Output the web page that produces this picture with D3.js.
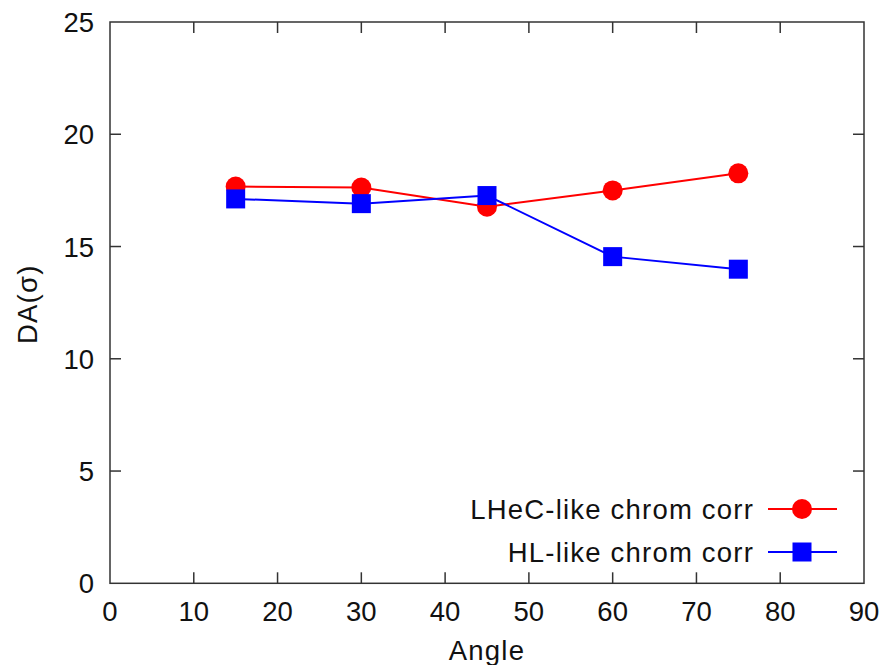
<!DOCTYPE html>
<html>
<head>
<meta charset="utf-8">
<script src="https://cdn.jsdelivr.net/npm/d3@7"></script>
<style>
  html, body { margin: 0; padding: 0; background: #fff; }
  svg text { font-family: "Liberation Sans", Arial, sans-serif; fill: #111; }
</style>
</head>
<body>
<svg id="chart" width="888" height="665"></svg>
<script>
// Dynamic aperture vs crossing angle for two chromaticity-correction schemes
const angles = [15, 30, 45, 60, 75];
const lhecValues = [17.67, 17.63, 16.77, 17.50, 18.26];
const hlValues = [17.12, 16.91, 17.27, 14.55, 13.99];
const xTicks = [0, 10, 20, 30, 40, 50, 60, 70, 80, 90];
const yTicks = [0, 5, 10, 15, 20, 25];
const seriesNames = ["LHeC-like chrom corr", "HL-like chrom corr"];

const svg = d3.select("#chart");
const plotLeft = 110, plotRight = 864, plotTop = 22, plotBottom = 583.3;

const x = d3.scaleLinear().domain([0, 90]).range([plotLeft, plotRight]);
const y = d3.scaleLinear().domain([0, 25]).range([plotBottom, plotTop]);

const frameColor = "#333";
const tickLen = 11;
const fontSize = 27.5;
const wordSpacing = 1.2;

// Inward ticks on all four sides
const g = svg.append("g");
xTicks.slice(1, -1).forEach(t => {
  g.append("line").attr("x1", x(t)).attr("x2", x(t)).attr("y1", plotBottom).attr("y2", plotBottom - tickLen)
    .attr("stroke", frameColor).attr("stroke-width", 1.5);
  g.append("line").attr("x1", x(t)).attr("x2", x(t)).attr("y1", plotTop).attr("y2", plotTop + tickLen)
    .attr("stroke", frameColor).attr("stroke-width", 1.5);
});
yTicks.slice(1, -1).forEach(t => {
  g.append("line").attr("x1", plotLeft).attr("x2", plotLeft + tickLen).attr("y1", y(t)).attr("y2", y(t))
    .attr("stroke", frameColor).attr("stroke-width", 1.5);
  g.append("line").attr("x1", plotRight).attr("x2", plotRight - tickLen).attr("y1", y(t)).attr("y2", y(t))
    .attr("stroke", frameColor).attr("stroke-width", 1.5);
});

// Frame
svg.append("rect").attr("x", plotLeft).attr("y", plotTop)
  .attr("width", plotRight - plotLeft).attr("height", plotBottom - plotTop)
  .attr("fill", "none").attr("stroke", frameColor).attr("stroke-width", 1.5);

// Tick labels
xTicks.forEach(t => {
  svg.append("text").attr("x", x(t)).attr("y", plotBottom + 38).attr("text-anchor", "middle")
    .attr("font-size", fontSize).text(t);
});
yTicks.forEach(t => {
  svg.append("text").attr("x", plotLeft - 16).attr("y", y(t) + 10).attr("text-anchor", "end")
    .attr("font-size", fontSize).text(t);
});

// Axis titles
svg.append("text").attr("x", x(45)).attr("y", 660).attr("text-anchor", "middle")
  .attr("font-size", fontSize).attr("letter-spacing", wordSpacing).text("Angle");
svg.append("text").attr("transform", "translate(37,344) rotate(-90)").attr("text-anchor", "start")
  .attr("font-size", fontSize).attr("letter-spacing", wordSpacing).text("DA(σ)");

const line = d3.line().x(d => x(d[0])).y(d => y(d[1]));
const lhec = angles.map((a, i) => [a, lhecValues[i]]);
const hl = angles.map((a, i) => [a, hlValues[i]]);

svg.append("path").datum(lhec).attr("d", line).attr("fill", "none").attr("stroke", "#ff0000").attr("stroke-width", 2);
svg.append("path").datum(hl).attr("d", line).attr("fill", "none").attr("stroke", "#0000ff").attr("stroke-width", 2);

svg.selectAll("circle.lhec").data(lhec).enter().append("circle").attr("class", "lhec")
  .attr("cx", d => x(d[0])).attr("cy", d => y(d[1])).attr("r", 10).attr("fill", "#ff0000");
const sq = 19;
svg.selectAll("rect.hl").data(hl).enter().append("rect").attr("class", "hl")
  .attr("x", d => x(d[0]) - sq / 2).attr("y", d => y(d[1]) - sq / 2)
  .attr("width", sq).attr("height", sq).attr("fill", "#0000ff");

// Legend
const legend = [
  { name: seriesNames[0], color: "#ff0000", shape: "circle", yy: 509 },
  { name: seriesNames[1], color: "#0000ff", shape: "square", yy: 552 }
];
legend.forEach(l => {
  svg.append("text").attr("x", 754).attr("y", l.yy + 10).attr("text-anchor", "end")
    .attr("font-size", fontSize).attr("letter-spacing", wordSpacing).text(l.name);
  svg.append("line").attr("x1", 768).attr("x2", 837).attr("y1", l.yy).attr("y2", l.yy)
    .attr("stroke", l.color).attr("stroke-width", 2);
  if (l.shape === "circle") {
    svg.append("circle").attr("cx", 802).attr("cy", l.yy).attr("r", 10).attr("fill", l.color);
  } else {
    svg.append("rect").attr("x", 802 - sq / 2).attr("y", l.yy - sq / 2).attr("width", sq).attr("height", sq).attr("fill", l.color);
  }
});
</script>
</body>
</html>
